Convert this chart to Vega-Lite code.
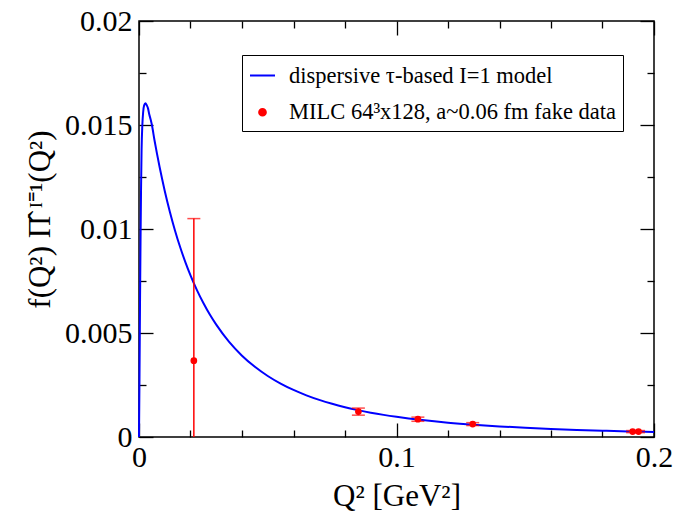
{
  "$schema": "https://vega.github.io/schema/vega-lite/v6.json",
  "width": 515,
  "height": 416,
  "autosize": {"type": "none"},
  "padding": {"left": 139, "top": 21, "right": 22, "bottom": 82},
  "config": {
    "font": "Liberation Serif",
    "view": {"stroke": "#000000", "strokeWidth": 1.5},
    "axis": {
      "domain": false,
      "grid": false,
      "tickColor": "#000000",
      "tickWidth": 1.3,
      "labelFont": "Liberation Serif",
      "labelFontSize": 30,
      "labelColor": "#000000",
      "labelFlush": false,
      "labelOverlap": false,
      "titleFont": "Liberation Serif",
      "titleFontSize": 31,
      "titleFontWeight": "normal",
      "titleColor": "#000000"
    }
  },
  "datasets": {
    "model": [
      {"series": "dispersive τ-based I=1 model", "q2": 0, "v": 0},
      {"series": "dispersive τ-based I=1 model", "q2": 0.0002, "v": 0.0030},
      {"series": "dispersive τ-based I=1 model", "q2": 0.0004, "v": 0.0065},
      {"series": "dispersive τ-based I=1 model", "q2": 0.0006, "v": 0.0095},
      {"series": "dispersive τ-based I=1 model", "q2": 0.0008, "v": 0.0120},
      {"series": "dispersive τ-based I=1 model", "q2": 0.001, "v": 0.0138},
      {"series": "dispersive τ-based I=1 model", "q2": 0.0013, "v": 0.0150},
      {"series": "dispersive τ-based I=1 model", "q2": 0.0016, "v": 0.0156},
      {"series": "dispersive τ-based I=1 model", "q2": 0.002, "v": 0.01595},
      {"series": "dispersive τ-based I=1 model", "q2": 0.0025, "v": 0.01605},
      {"series": "dispersive τ-based I=1 model", "q2": 0.003, "v": 0.01595},
      {"series": "dispersive τ-based I=1 model", "q2": 0.0035, "v": 0.0158},
      {"series": "dispersive τ-based I=1 model", "q2": 0.004, "v": 0.0155},
      {"series": "dispersive τ-based I=1 model", "q2": 0.0045, "v": 0.01528},
      {"series": "dispersive τ-based I=1 model", "q2": 0.005, "v": 0.01501},
      {"series": "dispersive τ-based I=1 model", "q2": 0.006, "v": 0.01428},
      {"series": "dispersive τ-based I=1 model", "q2": 0.007, "v": 0.01361},
      {"series": "dispersive τ-based I=1 model", "q2": 0.008, "v": 0.01298},
      {"series": "dispersive τ-based I=1 model", "q2": 0.009, "v": 0.01239},
      {"series": "dispersive τ-based I=1 model", "q2": 0.010, "v": 0.01183},
      {"series": "dispersive τ-based I=1 model", "q2": 0.012, "v": 0.01082},
      {"series": "dispersive τ-based I=1 model", "q2": 0.014, "v": 0.00992},
      {"series": "dispersive τ-based I=1 model", "q2": 0.016, "v": 0.00912},
      {"series": "dispersive τ-based I=1 model", "q2": 0.018, "v": 0.00841},
      {"series": "dispersive τ-based I=1 model", "q2": 0.020, "v": 0.00777},
      {"series": "dispersive τ-based I=1 model", "q2": 0.0225, "v": 0.00706},
      {"series": "dispersive τ-based I=1 model", "q2": 0.025, "v": 0.00644},
      {"series": "dispersive τ-based I=1 model", "q2": 0.0275, "v": 0.005885},
      {"series": "dispersive τ-based I=1 model", "q2": 0.030, "v": 0.00540},
      {"series": "dispersive τ-based I=1 model", "q2": 0.035, "v": 0.00457},
      {"series": "dispersive τ-based I=1 model", "q2": 0.040, "v": 0.00391},
      {"series": "dispersive τ-based I=1 model", "q2": 0.045, "v": 0.003375},
      {"series": "dispersive τ-based I=1 model", "q2": 0.050, "v": 0.002934},
      {"series": "dispersive τ-based I=1 model", "q2": 0.055, "v": 0.002568},
      {"series": "dispersive τ-based I=1 model", "q2": 0.060, "v": 0.002262},
      {"series": "dispersive τ-based I=1 model", "q2": 0.065, "v": 0.002004},
      {"series": "dispersive τ-based I=1 model", "q2": 0.070, "v": 0.001784},
      {"series": "dispersive τ-based I=1 model", "q2": 0.075, "v": 0.001596},
      {"series": "dispersive τ-based I=1 model", "q2": 0.080, "v": 0.001434},
      {"series": "dispersive τ-based I=1 model", "q2": 0.085, "v": 0.001293},
      {"series": "dispersive τ-based I=1 model", "q2": 0.090, "v": 0.001171},
      {"series": "dispersive τ-based I=1 model", "q2": 0.095, "v": 0.001064},
      {"series": "dispersive τ-based I=1 model", "q2": 0.100, "v": 0.000970},
      {"series": "dispersive τ-based I=1 model", "q2": 0.110, "v": 0.000813},
      {"series": "dispersive τ-based I=1 model", "q2": 0.120, "v": 0.000689},
      {"series": "dispersive τ-based I=1 model", "q2": 0.130, "v": 0.000590},
      {"series": "dispersive τ-based I=1 model", "q2": 0.140, "v": 0.000509},
      {"series": "dispersive τ-based I=1 model", "q2": 0.150, "v": 0.000442},
      {"series": "dispersive τ-based I=1 model", "q2": 0.160, "v": 0.000387},
      {"series": "dispersive τ-based I=1 model", "q2": 0.170, "v": 0.000341},
      {"series": "dispersive τ-based I=1 model", "q2": 0.180, "v": 0.000302},
      {"series": "dispersive τ-based I=1 model", "q2": 0.190, "v": 0.000269},
      {"series": "dispersive τ-based I=1 model", "q2": 0.200, "v": 0.0002405}
    ],
    "lattice": [
      {"series": "MILC 64³x128, a~0.06 fm fake data", "q2": 0.0213, "v": 0.00367, "lo": -0.00313, "hi": 0.0105},
      {"series": "MILC 64³x128, a~0.06 fm fake data", "q2": 0.0852, "v": 0.00122, "lo": 0.00105, "hi": 0.00139},
      {"series": "MILC 64³x128, a~0.06 fm fake data", "q2": 0.1083, "v": 0.000855, "lo": 0.000755, "hi": 0.000955},
      {"series": "MILC 64³x128, a~0.06 fm fake data", "q2": 0.1296, "v": 0.00062, "lo": 0.00055, "hi": 0.00069},
      {"series": "MILC 64³x128, a~0.06 fm fake data", "q2": 0.1917, "v": 0.00026, "lo": 0.00021, "hi": 0.00031},
      {"series": "MILC 64³x128, a~0.06 fm fake data", "q2": 0.1940, "v": 0.00026, "lo": 0.00021, "hi": 0.00031}
    ]
  },
  "layer": [
    {
      "data": {"name": "model"},
      "mark": {"type": "line", "strokeWidth": 2, "interpolate": "monotone"},
      "encoding": {
        "x": {
          "field": "q2", "type": "quantitative",
          "scale": {"domain": [0, 0.2], "nice": false, "zero": false},
          "axis": {
            "orient": "bottom",
            "title": "Q² [GeV²]",
            "values": [0, 0.1, 0.2],
            "format": "~g",
            "offset": -14,
            "tickSize": 14,
            "labelPadding": 5,
            "titlePadding": 9
          }
        },
        "y": {
          "field": "v", "type": "quantitative",
          "scale": {"domain": [0, 0.02], "nice": false, "zero": false},
          "axis": {
            "orient": "left",
            "title": "f(Q²) Π̂ ᴵ⁼¹(Q²)",
            "values": [0, 0.005, 0.01, 0.015, 0.02],
            "format": "~g",
            "offset": -14,
            "tickSize": 14,
            "labelPadding": 7,
            "titleX": -97,
            "titleY": 198
          }
        },
        "color": {
          "field": "series",
          "type": "nominal",
          "scale": {
            "domain": ["dispersive τ-based I=1 model", "MILC 64³x128, a~0.06 fm fake data"],
            "range": ["#0000ff", "#ff0000"]
          },
          "legend": {
            "title": null,
            "orient": "none",
            "legendX": 103,
            "legendY": 34,
            "strokeColor": "#000000",
            "fillColor": "#ffffff",
            "padding": 7,
            "rowPadding": 14,
            "labelOffset": 13,
            "labelFont": "Liberation Serif",
            "labelFontSize": 22.5,
            "labelColor": "#000000",
            "labelLimit": 500,
            "symbolStrokeWidth": 2,
            "encode": {
              "symbols": {
                "update": {
                  "stroke": {"scale": "color", "field": "value"},
                  "opacity": {"value": 1}
                }
              }
            }
          }
        }
      }
    },
    {
      "data": {"name": "lattice"},
      "mark": {"type": "rule", "color": "#ff0000", "strokeWidth": 1.5, "clip": true},
      "encoding": {
        "x": {
          "field": "q2", "type": "quantitative",
          "axis": {
            "orient": "bottom", "title": null, "labels": false,
            "values": [0.02, 0.04, 0.06, 0.08, 0.12, 0.14, 0.16, 0.18],
            "offset": -7, "tickSize": 7
          }
        },
        "y": {
          "field": "lo", "type": "quantitative",
          "axis": {
            "orient": "left", "title": null, "labels": false,
            "values": [0.0025, 0.0075, 0.0125, 0.0175],
            "offset": -7, "tickSize": 7
          }
        },
        "y2": {"field": "hi"}
      }
    },
    {
      "data": {"name": "lattice"},
      "mark": {"type": "tick", "orient": "horizontal", "color": "#ff0000", "size": 13, "thickness": 1.5, "clip": true},
      "encoding": {
        "x": {
          "field": "q2", "type": "quantitative",
          "axis": {
            "orient": "top", "title": null, "labels": false,
            "values": [0, 0.1, 0.2],
            "offset": -14, "tickSize": 14
          }
        },
        "y": {
          "field": "hi", "type": "quantitative",
          "axis": {
            "orient": "right", "title": null, "labels": false,
            "values": [0, 0.005, 0.01, 0.015, 0.02],
            "offset": -14, "tickSize": 14
          }
        }
      }
    },
    {
      "data": {"name": "lattice"},
      "mark": {"type": "tick", "orient": "horizontal", "color": "#ff0000", "size": 13, "thickness": 1.5, "clip": true},
      "encoding": {
        "x": {"field": "q2", "type": "quantitative", "axis": null},
        "y": {"field": "lo", "type": "quantitative", "axis": null}
      }
    },
    {
      "data": {"name": "lattice"},
      "mark": {"type": "point", "filled": true, "opacity": 1, "clip": true},
      "encoding": {
        "x": {
          "field": "q2", "type": "quantitative",
          "axis": {
            "orient": "top", "title": null, "labels": false,
            "values": [0.02, 0.04, 0.06, 0.08, 0.12, 0.14, 0.16, 0.18],
            "offset": -7, "tickSize": 7
          }
        },
        "y": {
          "field": "v", "type": "quantitative",
          "axis": {
            "orient": "right", "title": null, "labels": false,
            "values": [0.0025, 0.0075, 0.0125, 0.0175],
            "offset": -7, "tickSize": 7
          }
        },
        "color": {"field": "series", "type": "nominal"},
        "shape": {
          "field": "series", "type": "nominal",
          "scale": {
            "domain": ["dispersive τ-based I=1 model", "MILC 64³x128, a~0.06 fm fake data"],
            "range": ["stroke", "circle"]
          }
        },
        "size": {
          "field": "series", "type": "nominal",
          "scale": {
            "type": "ordinal",
            "domain": ["dispersive τ-based I=1 model", "MILC 64³x128, a~0.06 fm fake data"],
            "range": [625, 45]
          }
        }
      }
    }
  ],
  "resolve": {"axis": {"x": "independent", "y": "independent"}}
}
